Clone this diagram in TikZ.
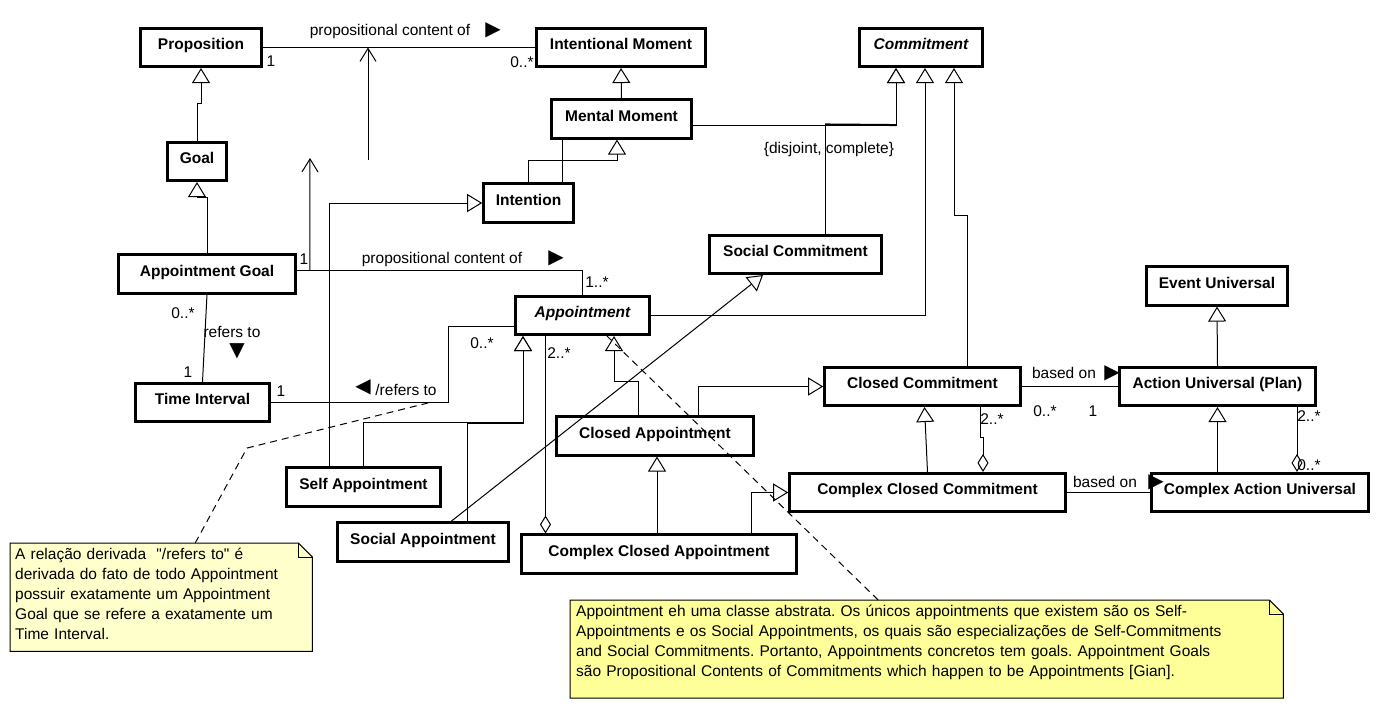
\documentclass[tikz,border=0pt]{standalone}
\usepackage{fontspec}
\setmainfont{Liberation Sans}[Ligatures=TeXOff]
\newfontfamily\symfont{DejaVu Sans}
\usepackage{xcolor}
\usepackage{tikz}
\usetikzlibrary{arrows.meta, calc, backgrounds}
\frenchspacing

\definecolor{notepale}{RGB}{255,255,204}
\definecolor{notebright}{RGB}{255,255,153}

\begin{document}
\begin{tikzpicture}[x=1pt, y=-1pt,
      cls/.style={rectangle, draw, line width=2.6pt, minimum height=38.5pt, inner sep=0pt, text height=11pt, text depth=7pt, font=\fontsize{15.5}{18}\selectfont\bfseries},
      abscls/.style={cls, font=\fontsize{15.5}{18}\selectfont\bfseries\itshape},
      lbl/.style={inner sep=0pt, font=\fontsize{15.5}{18}\selectfont},
      dir/.style={inner sep=0pt, font=\fontsize{20}{20}\symfont},
      assoc/.style={line width=1pt},
      gen/.style={assoc, -{Triangle[fill=white, length=15pt, width=18pt]}},
      agg/.style={assoc, {Diamond[fill=white, length=18pt, width=11pt]}-},
      nav/.style={assoc, -{Straight Barb[length=13pt, width=16pt]}},
      notetxt/.style={anchor=north west, align=left, inner xsep=5pt, inner ysep=5pt, font=\fontsize{15.5}{20}\selectfont},
      notebox/.style={draw, line width=1pt},
      notelink/.style={line width=1pt, dash pattern=on 7pt off 5pt}]
  \useasboundingbox (0,0) rectangle (1382,713);
  % classes
  \node[cls, minimum width=121pt] (prop) at (201,47.5) {Proposition};
  \node[cls, minimum width=169pt] (intmom) at (621,47.5) {Intentional Moment};
  \node[abscls, minimum width=123pt] (commit) at (921,47.5) {Commitment};
  \node[cls, minimum width=140pt] (mentmom) at (621.5,119) {Mental Moment};
  \node[cls, minimum width=59pt] (goal) at (197,161.5) {Goal};
  \node[cls, minimum width=90pt] (intent) at (528.5,203) {Intention};
  \node[cls, minimum width=172pt] (socom) at (795.5,254.5) {Social Commitment};
  \node[cls, minimum width=177pt] (apgoal) at (207,274) {Appointment Goal};
  \node[cls, minimum width=141pt] (evuniv) at (1217,286) {Event Universal};
  \node[abscls, minimum width=134pt] (appt) at (582.5,315.5) {Appointment};
  \node[cls, minimum width=134pt] (tint) at (202.5,402.5) {Time Interval};
  \node[cls, minimum width=196pt] (clcom) at (922.5,386.5) {Closed Commitment};
  \node[cls, minimum width=196pt] (actuniv) at (1217.5,386.5) {Action Universal (Plan)};
  \node[cls, minimum width=197pt] (clappt) at (655,436) {Closed Appointment};
  \node[cls, minimum width=154pt] (selfappt) at (363.5,487) {Self Appointment};
  \node[cls, minimum width=276pt] (cxcom) at (927.5,492.5) {Complex Closed Commitment};
  \node[cls, minimum width=217pt] (cxact) at (1260,492.5) {Complex Action Universal};
  \node[cls, minimum width=171pt] (socappt) at (423,542) {Social Appointment};
  \node[cls, minimum width=275pt] (cxappt) at (659,554) {Complex Closed Appointment};
  % notes
  \node[notetxt, text width=292pt] (note1) at (10,543)
    {A relação derivada \ "/refers to" é\\derivada do fato de todo Appointment\\possuir exatamente um Appointment\\Goal que se refere a exatamente um\\Time Interval.};
  \node[notetxt, text width=701pt, inner xsep=6pt] (note2) at (570,600)
    {Appointment eh uma classe abstrata. Os únicos appointments que existem são os Self-\\Appointments e os Social Appointments, os quais são especializações de Self-Commitments\\and Social Commitments. Portanto, Appointments concretos tem goals. Appointment Goals\\são Propositional Contents of Commitments which happen to be Appointments [Gian].};
  \begin{scope}[on background layer]
    \filldraw[notebox, fill=notepale] (note1.north west) -- ($(note1.north east)+(-14,0)$) -- ($(note1.north east)+(0,14)$) -- ($(note1.south east)+(0,6.5)$) -- ($(note1.south west)+(0,6.5)$) -- cycle;
    \draw[notebox] ($(note1.north east)+(-14,0)$) |- ($(note1.north east)+(0,14)$);
    \filldraw[notebox, fill=notebright] (note2.north west) -- ($(note2.north east)+(-14,0)$) -- ($(note2.north east)+(0,14)$) -- ($(note2.south east)+(0,13)$) -- ($(note2.south west)+(0,13)$) -- cycle;
    \draw[notebox] ($(note2.north east)+(-14,0)$) |- ($(note2.north east)+(0,14)$);
  \end{scope}
  % generalizations
  \draw[gen] (goal.north) -- ++(0,-37) -| (prop.south);
  \draw[gen] (apgoal.north) -- ++(0,-56) -| (goal.south);
  \draw[gen] (mentmom.north) -- (intmom.south);
  \draw[gen] (intent.north) -- ++(0,-22) -| ($(mentmom.south)+(-4.5,0)$);
  \draw[gen] ($(selfappt.north)+(-34.5,0)$) |- (intent.west);
  \draw[gen] ($(mentmom.east)+(0,6)$) -| ($(commit.south)+(-25,0)$);
  \draw[gen] ($(socom.north)+(29.5,0)$) |- ($(commit.south)+(-25,57)$) -- ($(commit.south)+(-25,0)$);
  \draw[assoc, line width=2pt] ($(socom.north)+(29.5,-109.5)$) -- ($(commit.south)+(-25,57)$);
  \draw[gen] (appt.east) -| ($(commit.south)+(4,0)$);
  \draw[gen] ($(clcom.north)+(44.5,0)$) -- ++(0,-150) -| ($(commit.south)+(33,0)$);
  \draw[gen] (selfappt.north) -- ++(0,-44) -| ($(appt.south)+(-59.5,0)$);
  \draw[gen] ($(socappt.north)+(44,0)$) |- ($(appt.south)+(-59.5,87)$) -- ($(appt.south)+(-59.5,0)$);
  \draw[gen] ($(socappt.north)+(28,0)$) -- ($(socom.south)+(-32.5,0)$);
  \draw[gen] ($(clappt.north)+(-17,0)$) -- ++(0,-34) -| ($(appt.south)+(31.5,0)$);
  \draw[gen] ($(clappt.north)+(43,0)$) |- (clcom.west);
  \draw[gen] ($(cxappt.north)+(-2,0)$) -- ($(clappt.south)+(2,0)$);
  \draw[gen] ($(cxappt.north)+(92,0)$) |- (cxcom.west);
  \draw[gen] (cxcom.north) -- ($(clcom.south)+(2,0)$);
  \draw[gen] (actuniv.north) -- (evuniv.south);
  \draw[gen] (cxact.north -| actuniv.south) -- (actuniv.south);
  % associations
  \draw[assoc] (prop.east) -- (intmom.west);
  \draw[assoc] ($(mentmom.south)+(-59.5,0)$) -- ($(intent.north)+(33.5,0)$);
  \draw[assoc] ($(apgoal.east)+(0,-4)$) -| (appt.north);
  \draw[assoc] (apgoal.south) -- (tint.north);
  \draw[assoc] (tint.east) -- ++(178,0) |- ($(appt.west)+(0,10.5)$);
  \draw[assoc] (clcom.east) -- (actuniv.west);
  \draw[assoc] (cxcom.east) -- (cxact.west);
  \draw[agg] ($(cxappt.north)+(-113.5,0)$) -- ($(appt.south)+(-37,0)$);
  \draw[agg] ($(cxcom.north)+(55.5,0)$) -- ++(0,-34) -| ($(clcom.south)+(57.5,0)$);
  \draw[agg] ($(cxact.north)+(37,0)$) -- ($(actuniv.south)+(79.5,0)$);
  \coordinate (navbase1) at (368,160);
  \coordinate (navtip2) at (310,158);
  \draw[nav] (navbase1) -- (navbase1 |- prop.east);
  \draw[nav] ($(apgoal.east)+(13,-4)$) -- (navtip2);
  % note links
  \draw[notelink] ($(note1.north)+(34,0)$) -- ($(tint.south)+(44.5,25)$) -- ($(tint.east)+(159,0)$);
  \draw[notelink] ($(note2.north)+(-48.5,0)$) -- ($(appt.south)+(24.5,0)$);
  % labels
  \node[lbl] (pclbl) at (390,31) {propositional content of};
  \node[dir] (pcdir) at (493,30) {▶};
  \node[lbl] (mprop) at (271,61) {1};
  \node[lbl] (mintmom) at (522,62) {0..*};
  \node[lbl] (pc2lbl) at (442,259) {propositional content of};
  \node[dir] (pc2dir) at (556,258) {▶};
  \node[lbl] (mapgoal) at (304,259) {1};
  \node[lbl] (mappt) at (597,282) {1..*};
  \node[lbl] (mapgoal2) at (183,313) {0..*};
  \node[lbl] (reflbl) at (232,332) {refers to};
  \node[dir] (refdir) at (237,351) {▼};
  \node[lbl] (mtint) at (188,372) {1};
  \node[lbl] (mtint2) at (281,391) {1};
  \node[dir] (drefdir) at (363,387) {◀};
  \node[lbl] (dreflbl) at (406,390) {/refers to};
  \node[lbl] (mappt2) at (482,343) {0..*};
  \node[lbl] (mwhole1) at (559,353) {2..*};
  \node[lbl] (gsetlbl) at (829,149) {\{disjoint, complete\}};
  \node[lbl] (basedlbl) at (1064,373) {based on};
  \node[dir] (baseddir) at (1112,373) {▶};
  \node[lbl] (mclcom) at (1045,411) {0..*};
  \node[lbl] (mactuniv) at (1093,411) {1};
  \node[lbl] (mwhole2) at (992,419) {2..*};
  \node[lbl] (based2lbl) at (1105,482) {based on};
  \node[dir] (based2dir) at (1156,482) {▶};
  \node[lbl] (mwhole3) at (1309,416) {2..*};
  \node[lbl] (mpart3) at (1309,465) {0..*};
\end{tikzpicture}
\end{document}
